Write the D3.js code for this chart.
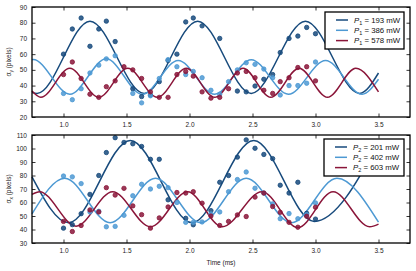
<!DOCTYPE html>
<html><head><meta charset="utf-8">
<script src="https://cdn.jsdelivr.net/npm/d3@7"></script>
<style>
html,body{margin:0;padding:0;background:#fff;}
svg{display:block;font-family:"Liberation Sans",Arial,sans-serif;}
</style></head>
<body><svg id="c" width="416" height="271"></svg>
<script>
// ---- data ----
const times = [1.00,1.07,1.14,1.21,1.28,1.34,1.41,1.48,1.55,1.62,1.69,1.76,1.83,1.90,1.97,2.03,2.10,2.17,2.24,2.31,2.38,2.45,2.52,2.59,2.66,2.72,2.79,2.86,2.93,3.00];
const xTicks = [1.0,1.5,2.0,2.5,3.0,3.5];
const yTicksTop = [20,30,40,50,60,70,80,90];
const yTicksBot = [30,40,50,60,70,80,90,100,110];

// top panel measured points (sigma_y)
const top193 = [60,76,83,65,76,81,68,null,38,33,34,42.5,56,60,80.5,83,78,null,70,null,36.5,36,39.7,44,47,61,70,71.5,77,73];
const top386 = [35,31,38,48,53,57,59,null,35,29,33.5,44.5,56.5,52,47,49,45,37,34.5,42.5,50,54.5,53.5,50.5,45,34,40,40,41.5,55];
const top578 = [47,55,44.5,34.5,32.5,39.3,43,52,50,44.5,36,32.5,32.5,47,49,46,36,32,32.5,38,48,49,45,37,35,42.5,45,51.5,52,43];
// bottom panel measured points (sigma_x)
const bot201 = [41,43.6,51.7,66,80,97,108,104.5,103.5,101.5,92,92,62,null,48.3,43.5,null,54,75,80,93.6,106.4,100.2,95.6,92.5,72.8,67,75,52,47.7];
const bot402 = [79.6,79,74,53,53.5,42,42.3,50.5,65,73.5,70,72,71,60,45.3,45.3,45.6,51.5,53,68,77,82.6,70.6,67,59,48,51.8,48,51,59.7];
const bot603 = [46,38.5,43,54.5,53,71,65.5,70.5,57.5,51,41,48.6,56.7,67.4,67,68,59.5,50,43,46,50.8,49.6,64,67,57,52.7,45.3,41.7,49.8,56.5];

// fitted curves read at their turning points
const fitT193 = [0.75,0.79,1.21,1.64,2.065,2.49,2.92,3.35,3.5];
const fitV193 = [35.5,35,81,35,81,35,81,35,48];
const fitT386 = [0.75,0.76,1.05,1.34,1.625,1.91,2.2,2.49,2.785,3.08,3.37,3.5];
const fitV386 = [56.5,56.6,34.5,57,34.5,56,34.5,56.5,34.5,56,34.5,44];
const fitT578 = [0.75,0.82,1.05,1.28,1.51,1.745,1.975,2.2,2.425,2.645,2.87,3.095,3.32,3.5];
const fitV578 = [36.5,32.5,51,32.5,51,32.5,51,32.5,51,32.5,51,32.5,51,36];
const fitT201 = [0.75,1.04,1.53,2.02,2.51,2.99,3.5];
const fitV201 = [79,45,106,45,106,46,104];
const fitT402 = [0.75,1.01,1.37,1.73,2.09,2.45,2.81,3.17,3.5];
const fitV402 = [51.5,78,45,78,45,78,45,78,45.5];
const fitT603 = [0.75,0.81,1.10,1.39,1.69,1.985,2.26,2.575,2.86,3.14,3.43,3.5];
const fitV603 = [66,68,42.5,68,42,68,42,68,41.5,68,42,44];

const labelsTop = ["193","386","578"];
const labelsBot = ["201","402","603"];
const colors = ["#174a7c","#4d99d3","#8a1539"];

// ---- drawing ----
const svg = d3.select("#c");
svg.append("rect").attr("width",416).attr("height",271).attr("fill","#fff");
const L = 32, R = 410;
const x = d3.scaleLinear().domain([0.75,3.75]).range([L,R]);

function panel(top, bottom, yDomain, yTicks, series, fits, labels, sub, ylab, legBox) {
  const y = d3.scaleLinear().domain(yDomain).range([bottom, top]);
  const g = svg.append("g");
  const line = d3.line().x(d=>x(d[0])).y(d=>y(d[1])).curve(d3.curveMonotoneX);
  fits.forEach((f,k)=>{
    g.append("path").datum(f[0].map((t,i)=>[t,f[1][i]]))
      .attr("d",line).attr("fill","none").attr("stroke",colors[k]).attr("stroke-width",1.5);
  });
  series.forEach((s,k)=>{
    g.selectAll(null).data(times.map((t,i)=>[t,s[i]]).filter(d=>d[1]!=null))
      .enter().append("circle")
      .attr("cx",d=>x(d[0])).attr("cy",d=>y(d[1])).attr("r",2.2)
      .attr("fill",colors[k]).attr("fill-opacity",0.85)
      .attr("stroke",colors[k]).attr("stroke-width",0.8);
  });
  // axes (ticks inward on all sides)
  const ax = [
    [d3.axisBottom(x).tickValues(xTicks).tickFormat(d3.format(".1f")), `translate(0,${bottom})`, true],
    [d3.axisTop(x).tickValues(xTicks).tickFormat(""), `translate(0,${top})`, false],
    [d3.axisLeft(y).tickValues(yTicks).tickFormat(d3.format("d")), `translate(${L},0)`, true],
    [d3.axisRight(y).tickValues(yTicks).tickFormat(""), `translate(${R},0)`, false]
  ];
  ax.forEach(([a,tr,lab])=>{
    const ag = g.append("g").attr("transform",tr).call(a.tickSizeInner(-3.5).tickSizeOuter(0).tickPadding(lab?5:0));
    ag.select(".domain").remove();
    ag.selectAll("line").attr("stroke","#000").attr("stroke-width",0.8);
    ag.selectAll("text").attr("font-size",6.5).attr("fill","#222").attr("font-family","Liberation Sans, Arial, sans-serif");
  });
  g.append("rect").attr("x",L).attr("y",top).attr("width",R-L).attr("height",bottom-top)
    .attr("fill","none").attr("stroke","#000").attr("stroke-width",1.3);
  // y label
  const yl = g.append("text").attr("transform",`translate(11,${(top+bottom)/2}) rotate(-90)`)
    .attr("text-anchor","middle").attr("font-size",6.5).attr("fill","#222");
  yl.append("tspan").text("σ");
  yl.append("tspan").attr("font-size",4.8).attr("dy",1.5).text(ylab);
  yl.append("tspan").attr("dy",-1.5).text(" (pixels)");
  // legend
  const lg = g.append("g");
  lg.append("rect").attr("x",legBox[0]).attr("y",legBox[1]).attr("width",legBox[2]).attr("height",legBox[3])
    .attr("fill","#fff").attr("stroke","#000").attr("stroke-width",1.3);
  labels.forEach((lbl,k)=>{
    const ry = legBox[1] + 8 + k*10.3;
    lg.append("line").attr("x1",legBox[0]+11).attr("x2",legBox[0]+23).attr("y1",ry).attr("y2",ry)
      .attr("stroke",colors[k]).attr("stroke-width",1.5);
    const t = lg.append("text").attr("x",legBox[0]+29).attr("y",ry+2.8).attr("font-size",7.8).attr("fill","#111");
    t.append("tspan").attr("font-style","italic").text("P");
    t.append("tspan").attr("font-size",5.5).attr("dy",1.8).text(sub);
    t.append("tspan").attr("dy",-1.8).text(" = " + lbl + " mW");
  });
}

// draw bottom first so top panel's labels don't collide
panel(7,117,[20,90],yTicksTop,[top193,top386,top578],
  [[fitT193,fitV193],[fitT386,fitV386],[fitT578,fitV578]],labelsTop,"1","y",[325,12,79,37]);
panel(135,243,[30,110],yTicksBot,[bot201,bot402,bot603],
  [[fitT201,fitV201],[fitT402,fitV402],[fitT603,fitV603]],labelsBot,"2","x",[324,139,80,37]);

svg.append("text").attr("x",(L+R)/2).attr("y",265).attr("text-anchor","middle")
  .attr("font-size",6.5).attr("fill","#222").text("Time (ms)");
</script></body></html>
